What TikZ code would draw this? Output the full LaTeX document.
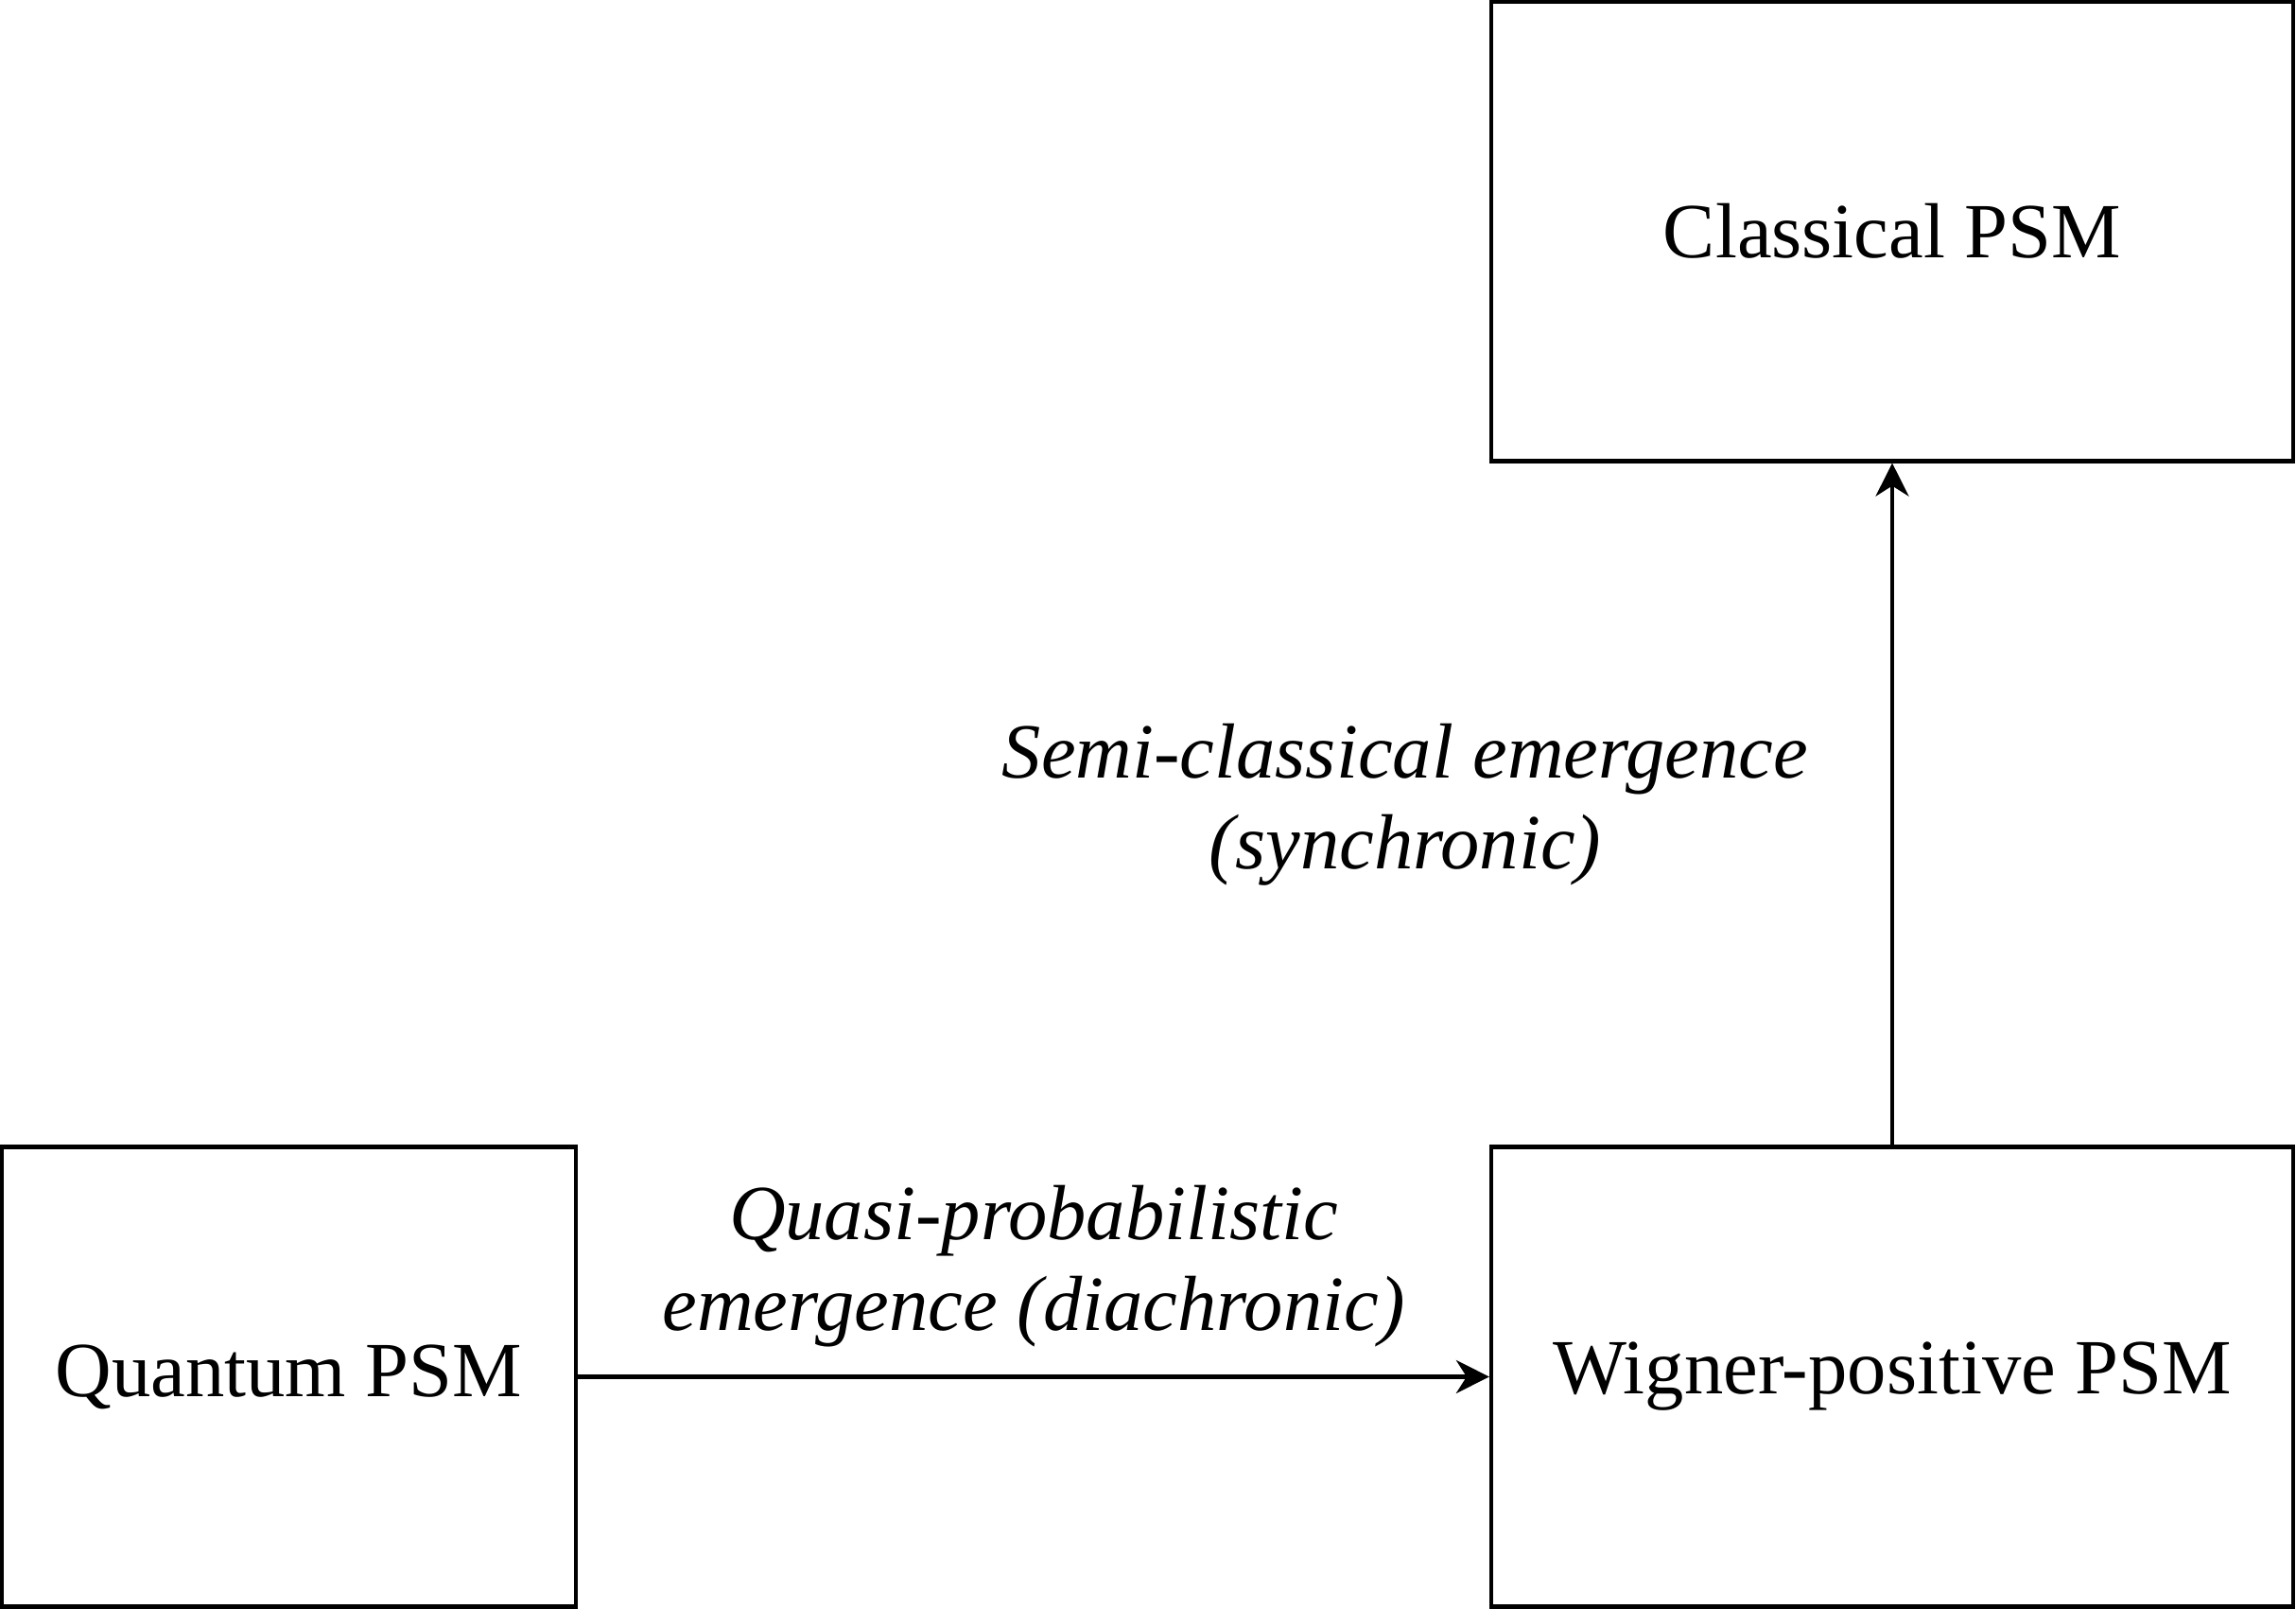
\documentclass[tikz,border=0pt]{standalone}
\usepackage{fontspec}
\setmainfont{Liberation Serif}
\usetikzlibrary{arrows.meta}
\tikzset{
  psmbox/.style={draw, rectangle, line width=1.2pt, minimum height=4.86cm,
    font=\fontsize{23.5}{27.3}\selectfont},
  emlabel/.style={align=center, font=\fontsize{23.5}{27.3}\selectfont\itshape},
  emarrow/.style={-{Stealth[length=3.5mm,width=3.5mm,inset=1.1mm]}, line width=1.2pt}
}
\begin{document}
\begin{tikzpicture}
\useasboundingbox (0,0) rectangle (24.28,17.01);
\node[psmbox, minimum width=8.48cm] (classical) at (20.01,14.565) {Classical PSM};
\node[psmbox, minimum width=6.07cm] (quantum) at (3.055,2.455) {Quantum PSM};
\node[psmbox, minimum width=8.48cm] (wigner) at (20.01,2.455) {Wigner-positive PSM};
\draw[emarrow] (quantum) -- (wigner);
\draw[emarrow] (wigner) -- (classical);
\node[emlabel] (quasi) at (10.93,3.62) {Quasi-probabilistic\\emergence (diachronic)};
\node[emlabel] (semi) at (14.86,8.50) {Semi-classical emergence\\(synchronic)};
\end{tikzpicture}
\end{document}
